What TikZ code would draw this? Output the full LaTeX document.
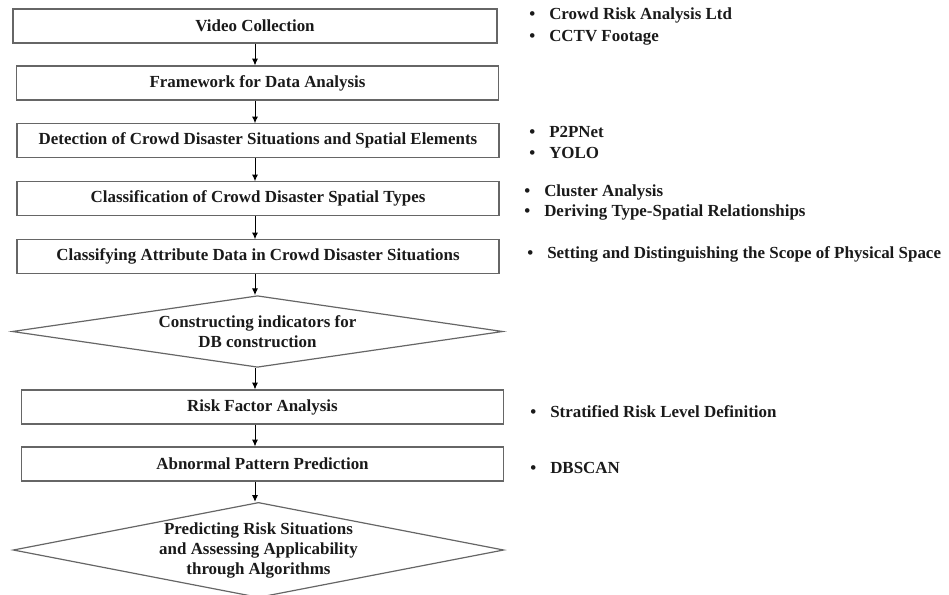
\documentclass[tikz,border=0pt]{standalone}
\usepackage{fontspec}
\setmainfont{Liberation Serif}
\usetikzlibrary{arrows.meta,shapes.geometric}
\definecolor{edge}{HTML}{666666}
\definecolor{ink}{HTML}{1A1A1A}
\tikzset{
  px/.style={x=0.75pt,y=-0.75pt},
  stepbox/.style={draw=edge,line width=0.9pt,rectangle,inner sep=0pt,
    font=\fontsize{12.7}{15}\selectfont\bfseries,text=ink},
  decbox/.style={draw=edge,line width=0.9pt,diamond,inner sep=0pt,aspect=5,
    align=center,font=\fontsize{12.7}{15}\selectfont\bfseries,text=ink},
  bul/.style={anchor=west,inner sep=0pt,font=\fontsize{12.7}{15}\selectfont\bfseries,text=ink},
  arr/.style={draw=black,line width=0.7pt,-{Latex[length=5pt,width=4.5pt]}}
}
\newcommand{\bl}[1]{\makebox[15pt][l]{\textbullet}#1}
\begin{document}
\begin{tikzpicture}[px]
\useasboundingbox (0,0) rectangle (949,594);
\node[stepbox,minimum width=363pt,minimum height=25.5pt] (b1) at (255,26) {Video Collection};
\node[stepbox,minimum width=362pt,minimum height=25.5pt] (b2) at (257.5,83) {Framework for Data Analysis};
\node[stepbox,minimum width=361.5pt,minimum height=25pt] (b3) at (258,140.5) {Detection of Crowd Disaster Situations and Spatial Elements};
\node[stepbox,minimum width=361.5pt,minimum height=25pt] (b4) at (258,198.5) {Classification of Crowd Disaster Spatial Types};
\node[stepbox,minimum width=361.5pt,minimum height=25pt] (b5) at (258,256.5) {Classifying Attribute Data in Crowd Disaster Situations};
\node[decbox,minimum width=368pt,minimum height=52pt] (d1) at (257.5,331.5) {Constructing indicators for\\DB construction};
\node[stepbox,minimum width=361pt,minimum height=25.5pt] (b6) at (262.5,407) {Risk Factor Analysis};
\node[stepbox,minimum width=361pt,minimum height=25.5pt] (b7) at (262.5,464) {Abnormal Pattern Prediction};
\node[decbox,minimum width=368pt,minimum height=67.5pt] (d2) at (258.5,550) {Predicting Risk Situations\\and Assessing Applicability\\through Algorithms};
\coordinate (ax) at (255,0);
\draw[arr] (b1.south -| ax) -- (b2.north -| ax);
\draw[arr] (b2.south -| ax) -- (b3.north -| ax);
\draw[arr] (b3.south -| ax) -- (b4.north -| ax);
\draw[arr] (b4.south -| ax) -- (b5.north -| ax);
\draw[arr] (b5.south -| ax) -- (d1.north -| ax);
\draw[arr] (d1.south -| ax) -- (b6.north -| ax);
\draw[arr] (b6.south -| ax) -- (b7.north -| ax);
\draw[arr] (b7.south -| ax) -- (d2.north -| ax);
\node[bul] (r1) at (529,15) {\bl{Crowd Risk Analysis Ltd}};
\node[bul] (r2) at (529,38) {\bl{CCTV Footage}};
\node[bul] (r3) at (529,132) {\bl{P2PNet}};
\node[bul] (r4) at (529,153) {\bl{YOLO}};
\node[bul] (r5) at (524,192) {\bl{Cluster Analysis}};
\node[bul] (r6) at (524,212) {\bl{Deriving Type-Spatial Relationships}};
\node[bul] (r7) at (527,254) {\bl{Setting and Distinguishing the Scope of Physical Space}};
\node[bul] (r8) at (530,412) {\bl{Stratified Risk Level Definition}};
\node[bul] (r9) at (530,468) {\bl{DBSCAN}};
\end{tikzpicture}
\end{document}
